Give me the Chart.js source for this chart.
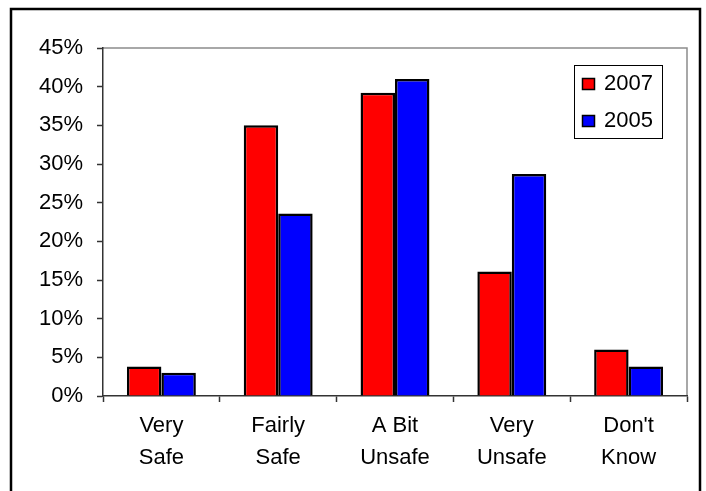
<!DOCTYPE html>
<html>
<head>
<meta charset="utf-8">
<script src="https://cdn.jsdelivr.net/npm/chart.js@4.4.0/dist/chart.umd.min.js"></script>
<style>
html,body{margin:0;padding:0;background:#fff;}
#wrap{width:706px;height:491px;position:relative;}
</style>
</head>
<body>
<div id="wrap"><canvas id="c" width="706" height="491"></canvas></div>
<script>
const categories = [["Very","Safe"],["Fairly","Safe"],["A Bit","Unsafe"],["Very","Unsafe"],["Don't","Know"]];
const seriesNames = ["2007","2005"];
const values2007 = [3.8, 35.0, 39.2, 16.1, 6.0];
const values2005 = [3.0, 23.6, 41.0, 28.7, 3.8];
const yTickMax = 45;
const yTickStep = 5;

const FONT = "'Liberation Sans', Arial, sans-serif";
const FS = 22;

const frame = {
  id: 'frame',
  beforeDraw(chart) {
    const ctx = chart.ctx;
    ctx.save();
    ctx.fillStyle = '#fff';
    ctx.fillRect(0, 0, chart.width, chart.height);
    ctx.strokeStyle = '#000';
    ctx.lineWidth = 2.5;
    ctx.beginPath();
    ctx.moveTo(11, 500);
    ctx.lineTo(11, 9);
    ctx.lineTo(700, 9);
    ctx.lineTo(700, 500);
    ctx.stroke();
    const a = chart.chartArea;
    ctx.strokeStyle = '#8c8c8c';
    ctx.lineWidth = 1.5;
    ctx.beginPath();
    ctx.moveTo(a.left, a.top);
    ctx.lineTo(a.right, a.top);
    ctx.lineTo(a.right, a.bottom);
    ctx.stroke();
    ctx.restore();
  },
  afterDraw(chart) {
    const ctx = chart.ctx;
    ctx.save();
    const bx = 574.5, by = 65.5, bw = 88, bh = 73;
    ctx.strokeStyle = '#000';
    ctx.lineWidth = 1;
    ctx.strokeRect(bx, by, bw, bh);
    const rows = [84, 121];
    chart.data.datasets.forEach((ds, i) => {
      const cy = rows[i];
      ctx.fillStyle = ds.backgroundColor;
      ctx.fillRect(582, cy - 6, 13, 12);
      ctx.lineWidth = 1.5;
      ctx.strokeStyle = '#000';
      ctx.strokeRect(582.5, cy - 5.5, 12, 11);
      ctx.fillStyle = '#000';
      ctx.font = FS + 'px ' + FONT;
      ctx.textBaseline = 'middle';
      ctx.textAlign = 'left';
      ctx.fillText(ds.label, 604, cy);
    });
    ctx.restore();
  }
};

new Chart(document.getElementById('c'), {
  type: 'bar',
  data: {
    labels: categories,
    datasets: [
      { label: seriesNames[0], data: values2007, backgroundColor: '#ff0000', borderColor: '#000', borderWidth: 2.5 },
      { label: seriesNames[1], data: values2005, backgroundColor: '#0000ff', borderColor: '#000', borderWidth: 2.5 }
    ]
  },
  options: {
    responsive: false,
    animation: false,
    devicePixelRatio: 1,
    categoryPercentage: 0.59,
    barPercentage: 1.0,
    layout: { padding: { top: 48, right: 19, left: 0, bottom: 0 } },
    plugins: { legend: { display: false }, tooltip: { enabled: false } },
    scales: {
      x: {
        offset: true,
        grid: { display: true, offset: true, drawOnChartArea: false, drawTicks: true, tickLength: 6, color: '#333', tickWidth: 1.5 },
        border: { display: true, color: '#333', width: 1.5 },
        ticks: { color: '#000', font: { family: FONT, size: FS, lineHeight: 1.45 }, padding: 8, maxRotation: 0, autoSkip: false },
        afterFit(s) { s.height = 95; }
      },
      y: {
        min: 0, max: yTickMax,
        grid: { display: true, drawOnChartArea: false, drawTicks: true, tickLength: 6, color: '#333', tickWidth: 1.5 },
        border: { display: true, color: '#333', width: 1.5 },
        ticks: { stepSize: yTickStep, color: '#000', font: { family: FONT, size: FS }, padding: 14, callback: v => v + '%' },
        afterFit(s) { s.width = 103; }
      }
    }
  },
  plugins: [frame]
});
</script>
</body>
</html>
